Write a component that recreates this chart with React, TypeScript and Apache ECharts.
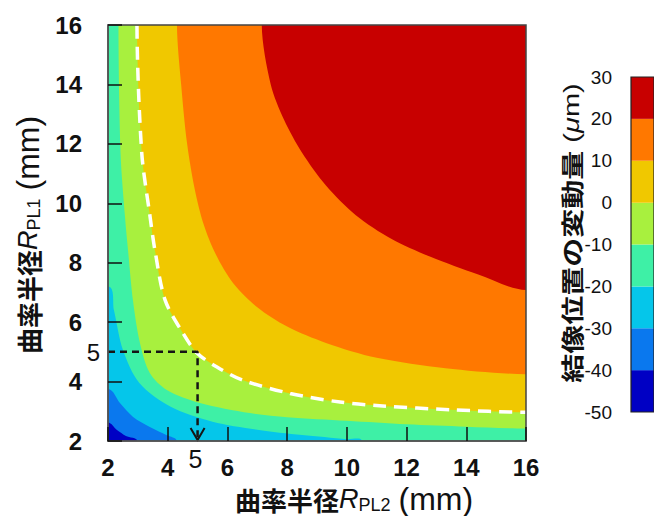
import React, { useEffect, useRef } from "react";
import * as echarts from "echarts";

// ---- data ----
const axisMin = 2;
const axisMax = 16;
const axisStep = 2;

// colour-bar levels (µm) and band colours (bottom -> top)
const levels = [-50, -40, -30, -20, -10, 0, 10, 20, 30];
const bandColors = [
  "#0000c4",
  "#0a78ee",
  "#05c6ea",
  "#3ef0a6",
  "#a8f03e",
  "#f0c800",
  "#ff7800",
  "#c80000",
];

// contour lines [R_PL2, R_PL1]; "lb" runs left edge -> bottom edge, "tr" top edge -> right edge
const contourM40 = [[2, 2.62], [2.3, 2.37], [2.6, 2.17], [2.98, 2]];
const contourM30 = [[2, 3.75], [2.4, 3.28], [2.84, 2.81], [3.4, 2.47], [3.97, 2.19], [4.3, 2]];
const contourM20 = [[2, 7.2], [2.2, 6.4], [2.5, 5.06], [3.05, 3.95], [4.1, 3.15], [5.5, 2.65], [7, 2.38], [8.5, 2.2], [10, 2.06], [10.5, 2]];
const contourM10 = [[2.35, 16], [2.42, 11.7], [2.57, 9.54], [2.67, 8.43], [2.84, 6.7], [3.07, 5.3], [3.4, 4.29], [3.97, 3.72], [5.08, 3.28], [6.75, 2.94], [8, 2.8], [10, 2.68], [12, 2.56], [14, 2.48], [16, 2.42]];
const contour0 = [[2.97, 16], [3.13, 11.7], [3.41, 9.54], [3.57, 8.43], [3.91, 6.75], [4.51, 5.63], [4.98, 4.96], [5.65, 4.49], [6.5, 4.05], [8.1, 3.6], [9.77, 3.31], [11.2, 3.18], [13.5, 3.05], [16, 2.97]];
const contour10 = [[4.31, 16], [4.45, 14], [4.65, 12], [4.9, 10.5], [5.2, 9.3], [5.6, 8.3], [6.2, 7.3], [7.0, 6.5], [8.0, 5.85], [9.3, 5.3], [11, 4.8], [13.3, 4.45], [16, 4.25]];
const contour20 = [[7.15, 16], [7.45, 14], [7.9, 12.8], [8.5, 11.7], [9.3, 10.6], [10.3, 9.6], [11.5, 8.8], [12.8, 8.2], [14.4, 7.6], [16, 7.08]];

const contours = [
  { kind: "lb", pts: contourM40 },
  { kind: "lb", pts: contourM30 },
  { kind: "lb", pts: contourM20 },
  { kind: "tr", pts: contourM10 },
  { kind: "tr", pts: contour0 },
  { kind: "tr", pts: contour10 },
  { kind: "tr", pts: contour20 },
];

// design point marked with the black dashed guide
const markerX = 5;
const markerY = 5;
const guideLine = [[axisMin, markerY], [markerX, markerY], [markerX, axisMin]];

const LATIN = "'Liberation Sans', Arial, sans-serif";
const NARROW = "'Liberation Sans Narrow', 'Liberation Sans', Arial, sans-serif";
const CJK = "'Noto Sans CJK JP', 'Noto Sans CJK SC', sans-serif";

const FAR = 40;
const SMOOTH = 0.3;

function regionPoints(i: number): number[][] {
  if (i === 0) return [[-FAR, -FAR], [FAR, -FAR], [FAR, FAR], [-FAR, FAR]];
  const c = contours[i - 1];
  const b = c.pts;
  const first = b[0];
  const last = b[b.length - 1];
  if (c.kind === "lb") {
    return [[-FAR, first[1]], ...b, [last[0], -FAR], [FAR, -FAR], [FAR, FAR], [-FAR, FAR]];
  }
  return [[first[0], FAR], ...b, [FAR, last[1]], [FAR, FAR]];
}

const titleRich = {
  c: { fontFamily: CJK, fontSize: 26, fontWeight: "bold", fill: "#111", lineHeight: 30, verticalAlign: "middle" },
  r: { fontFamily: LATIN, fontSize: 27, fontStyle: "italic", fill: "#111", lineHeight: 30, verticalAlign: "middle" },
  s: { fontFamily: LATIN, fontSize: 18, fill: "#111", lineHeight: 15, verticalAlign: "bottom" },
  m: { fontFamily: LATIN, fontSize: 32, fill: "#111", lineHeight: 30, verticalAlign: "middle", padding: [0, 0, 0, 8] },
};

export default function App() {
  const ref = useRef<HTMLDivElement>(null);

  useEffect(() => {
    const chart = echarts.init(ref.current!, null, { renderer: "svg" });

    const option: any = {
      animation: false,
      backgroundColor: "#ffffff",
      grid: [
        { left: 108, top: 25, width: 418, height: 416 },
        { left: 631, top: 77, width: 40, height: 335 },
      ],
      xAxis: [
        {
          type: "value",
          gridIndex: 0,
          min: axisMin,
          max: axisMax,
          interval: axisStep,
          z: 10,
          axisLine: { show: true, onZero: false, lineStyle: { color: "#555", width: 1.5 } },
          axisTick: { show: true, inside: true, length: 14, lineStyle: { color: "#111", width: 1.5 } },
          axisLabel: { fontSize: 24, fontFamily: LATIN, fontWeight: "bold", color: "#111", margin: 14 },
          splitLine: { show: false },
        },
        { type: "value", gridIndex: 1, min: 0, max: 1, show: false },
      ],
      yAxis: [
        {
          type: "value",
          gridIndex: 0,
          min: axisMin,
          max: axisMax,
          interval: axisStep,
          z: 10,
          axisLine: { show: true, onZero: false, lineStyle: { color: "#555", width: 1.5 } },
          axisTick: { show: true, inside: true, length: 14, lineStyle: { color: "#111", width: 1.5 } },
          axisLabel: { fontSize: 24, fontFamily: LATIN, fontWeight: "bold", color: "#111", margin: 26 },
          splitLine: { show: false },
        },
        {
          type: "value",
          gridIndex: 1,
          min: levels[0],
          max: levels[levels.length - 1],
          interval: 10,
          position: "left",
          axisLine: { show: false },
          axisTick: { show: false },
          axisLabel: { fontSize: 19, fontFamily: NARROW, color: "#111", margin: 19 },
          splitLine: { show: false },
        },
      ],
      series: [
        {
          type: "custom",
          xAxisIndex: 0,
          yAxisIndex: 0,
          clip: true,
          z: 2,
          data: bandColors.map((_, i) => [i, 0]),
          renderItem: (params: any, api: any) => {
            const i = params.dataIndex;
            const pts = regionPoints(i).map((p) => api.coord(p));
            return {
              type: "polygon",
              shape: { points: pts, smooth: SMOOTH },
              style: { fill: bandColors[i], stroke: null },
            };
          },
        },
        {
          type: "custom",
          xAxisIndex: 0,
          yAxisIndex: 0,
          clip: true,
          z: 3,
          data: [[0, 0]],
          renderItem: (params: any, api: any) => {
            const b = contour0;
            const pts = [[b[0][0], FAR], ...b, [FAR, b[b.length - 1][1]]].map((p) => api.coord(p));
            return {
              type: "polyline",
              shape: { points: pts, smooth: SMOOTH },
              style: { stroke: "#ffffff", lineWidth: 3.5, lineDash: [13, 8], fill: null },
            };
          },
        },
        {
          type: "line",
          xAxisIndex: 0,
          yAxisIndex: 0,
          z: 4,
          data: guideLine,
          showSymbol: false,
          symbol: "none",
          lineStyle: { color: "#151515", width: 2.5, type: [7, 5] },
        },
        {
          type: "custom",
          xAxisIndex: 0,
          yAxisIndex: 0,
          clip: false,
          z: 5,
          data: [[markerX, markerY]],
          renderItem: (params: any, api: any) => {
            const a = api.coord([markerX, axisMin]);
            const b = api.coord([axisMin, markerY]);
            const tl = api.coord([axisMin, axisMax]);
            const br = api.coord([axisMax, axisMin]);
            return {
              type: "group",
              children: [
                {
                  type: "rect",
                  shape: { x: tl[0], y: tl[1], width: br[0] - tl[0], height: br[1] - tl[1] },
                  style: { fill: null, stroke: "#444", lineWidth: 1.5 },
                },
                {
                  type: "polyline",
                  shape: { points: [[a[0] - 7, a[1] - 13], [a[0], a[1] - 1], [a[0] + 7, a[1] - 13]] },
                  style: { stroke: "#151515", lineWidth: 2, fill: null },
                },
                {
                  type: "text",
                  x: b[0] - 8,
                  y: b[1] + 1,
                  style: { text: String(markerY), fontSize: 24, fontFamily: LATIN, fill: "#111", align: "right", verticalAlign: "middle" },
                },
                {
                  type: "text",
                  x: a[0] - 2,
                  y: a[1] + 5,
                  style: { text: String(markerX), fontSize: 25, fontFamily: LATIN, fill: "#111", align: "center", verticalAlign: "top" },
                },
              ],
            };
          },
        },
        {
          type: "custom",
          xAxisIndex: 1,
          yAxisIndex: 1,
          clip: false,
          z: 2,
          data: [...bandColors.map((_, i) => [i, 0]), [bandColors.length, 0]],
          renderItem: (params: any, api: any) => {
            const i = params.dataIndex;
            if (i === bandColors.length) {
              const p0 = api.coord([0, levels[levels.length - 1]]);
              const p1 = api.coord([1, levels[0]]);
              return {
                type: "rect",
                shape: { x: p0[0], y: p0[1], width: p1[0] - p0[0], height: p1[1] - p0[1] },
                style: { fill: null, stroke: "#222", lineWidth: 1.2 },
              };
            }
            const p0 = api.coord([0, levels[i + 1]]);
            const p1 = api.coord([1, levels[i]]);
            return {
              type: "rect",
              shape: { x: p0[0], y: p0[1], width: p1[0] - p0[0], height: p1[1] - p0[1] },
              style: { fill: bandColors[i] },
            };
          },
        },
      ],
      graphic: [
        {
          type: "text",
          x: 235,
          y: 499,
          style: {
            text: "{c|曲率半径}{r|R}{s|PL2}{m|(mm)}",
            align: "left",
            verticalAlign: "middle",
            rich: titleRich,
          },
        },
        {
          type: "text",
          x: 28,
          y: 354,
          rotation: Math.PI / 2,
          style: {
            text: "{c|曲率半径}{r|R}{s|PL1}{m|(mm)}",
            align: "left",
            verticalAlign: "middle",
            rich: titleRich,
          },
        },
        {
          type: "text",
          x: 571,
          y: 233,
          rotation: Math.PI / 2,
          scaleY: 0.78,
          style: {
            text: "{c|結像位置の変動量}{m| (}{u|μ}{m|m)}",
            align: "center",
            verticalAlign: "middle",
            rich: {
              c: { fontFamily: CJK, fontSize: 29, fontWeight: "bold", fill: "#111" },
              m: { fontFamily: LATIN, fontSize: 29, fill: "#111" },
              u: { fontFamily: LATIN, fontSize: 29, fontStyle: "italic", fill: "#111" },
            },
          },
        },
      ],
    };

    chart.setOption(option);
    return () => chart.dispose();
  }, []);

  return (
    <div
      ref={ref}
      style={{ position: "fixed", left: 0, top: 0, width: 654, height: 516 }}
    />
  );
}
